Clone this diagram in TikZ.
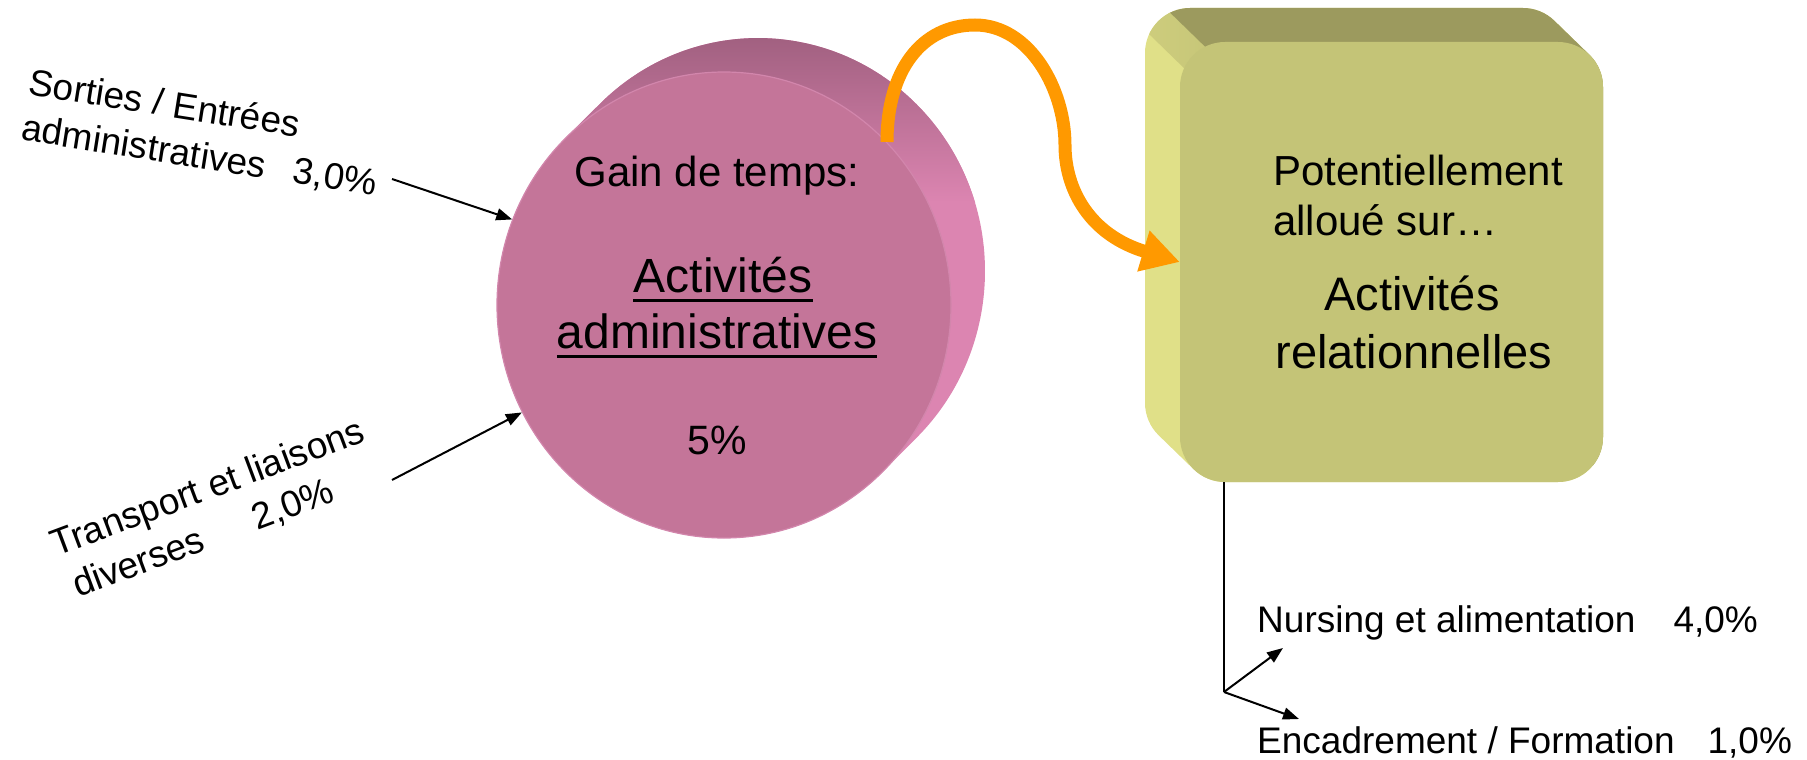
\documentclass[tikz,border=0pt]{standalone}
\usepackage{fontspec}
\setmainfont{Liberation Sans}
\usetikzlibrary{arrows.meta,shapes.geometric}
\definecolor{pinkfront}{HTML}{C47599}
\definecolor{pinkdark}{HTML}{9C5D7C}
\definecolor{pinkmid}{HTML}{B46F8F}
\definecolor{pinklight}{HTML}{DC85B1}
\definecolor{pinkrim}{HTML}{D286AC}
\definecolor{olivefront}{HTML}{C4C477}
\definecolor{olivelight}{HTML}{E0E088}
\definecolor{olivedark}{HTML}{9C9A5E}
\definecolor{arroworange}{HTML}{FF9900}
\begin{document}
\begin{tikzpicture}[x=1pt,y=-1pt,
  lbl/.style={inner sep=0pt, font=\fontsize{37}{46}\selectfont},
  mid/.style={inner sep=0pt, font=\fontsize{42}{50}\selectfont},
  big/.style={inner sep=0pt, font=\fontsize{48}{56}\selectfont},
  bigb/.style={inner sep=0pt, font=\fontsize{47}{56}\selectfont},
  feed/.style={line width=2pt, -{Triangle[length=16pt,width=12pt]}},
  ul/.style={line width=3pt},
  flow/.style={arroworange, line width=13pt, -{Triangle[length=38pt,width=40pt]}}
]
\useasboundingbox (0,0) rectangle (1807,760);

% pink disc: side wall between back face and front face
\begin{scope}[shift={(724,305)}, yscale=1.0264]
  \clip (34,-33.1) ++(-134.2:227) arc[start angle=-134.2, end angle=45.8, radius=227]
        -- (45.8:227) arc[start angle=45.8, end angle=225.8, radius=227] -- cycle;
  \fill[pinklight] (-300,-300) rectangle (300,300);
  \shade[top color=pinkdark, middle color=pinkmid, bottom color=pinklight]
        (-300,-275) rectangle (300,-100);
\end{scope}
% pink disc: front face
\node[ellipse, fill=pinkfront, draw=pinkrim, line width=1.2pt,
      minimum width=454pt, minimum height=466pt, inner sep=0pt] (circ) at (724,305) {};

% olive block: side walls (hull of back and front faces)
\begin{scope}
  \clip (1190,8) -- (1523,8) arc[start angle=-90, end angle=-45.8, radius=45]
        -- ++(35,34) arc[start angle=-45.8, end angle=0, radius=45]
        -- (1603,437) arc[start angle=0, end angle=90, radius=45]
        -- (1225,482) arc[start angle=90, end angle=134.2, radius=45]
        -- ++(-35,-34) arc[start angle=134.2, end angle=180, radius=45]
        -- (1145,53) arc[start angle=180, end angle=270, radius=45] -- cycle;
  \fill[olivelight] (1140,0) rectangle (1610,490);
  \begin{scope}[shift={(1190,53)}, rotate=45.8]
    \shade[left color=olivelight, right color=olivedark] (-15,-300) rectangle (15,600);
    \fill[olivedark] (15,-300) rectangle (800,600);
  \end{scope}
\end{scope}
% olive block: front face
\node[fill=olivefront, rounded corners=45pt, minimum width=423pt, minimum height=440pt,
      inner sep=0pt] (yb) at (1391.5,262) {};

% texts on the disc
\node[mid, anchor=base] (gain) at (717,186) {Gain de temps:};
\node[big, anchor=base] (act1) at (723,292) {Activités};
\node[big, anchor=base] (act2) at (717,348) {administratives};
\draw[ul] ([yshift=-8pt]act1.base west) -- ([yshift=-8pt]act1.base east);
\draw[ul] ([yshift=-8pt]act2.base west) -- ([yshift=-8pt]act2.base east);
\node[inner sep=0pt, font=\fontsize{41}{49}\selectfont, anchor=base] (pct) at (717,454) {5\%};

% texts on the block
\node[mid, anchor=base west] (pot) at (1273,185) {Potentiellement};
\node[mid, anchor=base west] (allo) at (1273,235) {alloué sur…};
\node[bigb, anchor=base] (act3) at (1412,310) {Activités};
\node[bigb, anchor=base] (rel) at (1414,368) {relationnelles};

% incoming items
\node[lbl, align=left, rotate=-9] (sorties) at (203,134)
  {Sorties / Entrées\\administratives\hspace{28pt}3,0\%};
\node[lbl, align=left, rotate=20.5] (transport) at (216,510)
  {Transport et liaisons\\\hspace*{6pt}diverses\hspace{54pt}2,0\%};
\coordinate (s1) at (392,179);
\coordinate (s2) at (392,480);
\draw[feed] (s1) -- (circ.158.8);
\draw[feed] (s2) -- (circ.208);

% transfer arrow
\draw[flow] (circ.45.5) .. controls (887,70) and (922,25) .. (975,25)
  .. controls (1030,25) and (1065,90) .. (1065,145)
  .. controls (1065,190) and (1090,235) .. (yb.west);

% outgoing items
\node[lbl, anchor=base west] (nurs) at (1257,632) {Nursing et alimentation\hspace{38pt}4,0\%};
\node[lbl, anchor=base west] (enc) at (1257,753) {Encadrement / Formation\hspace{33pt}1,0\%};
\coordinate (jn) at (1224,692);
\coordinate (t1) at (1283,648);
\coordinate (t2) at (1299,719);
\draw[line width=2pt] (yb.south -| jn) -- (jn);
\draw[feed] (jn) -- (t1);
\draw[feed] (jn) -- (t2);
\end{tikzpicture}
\end{document}
